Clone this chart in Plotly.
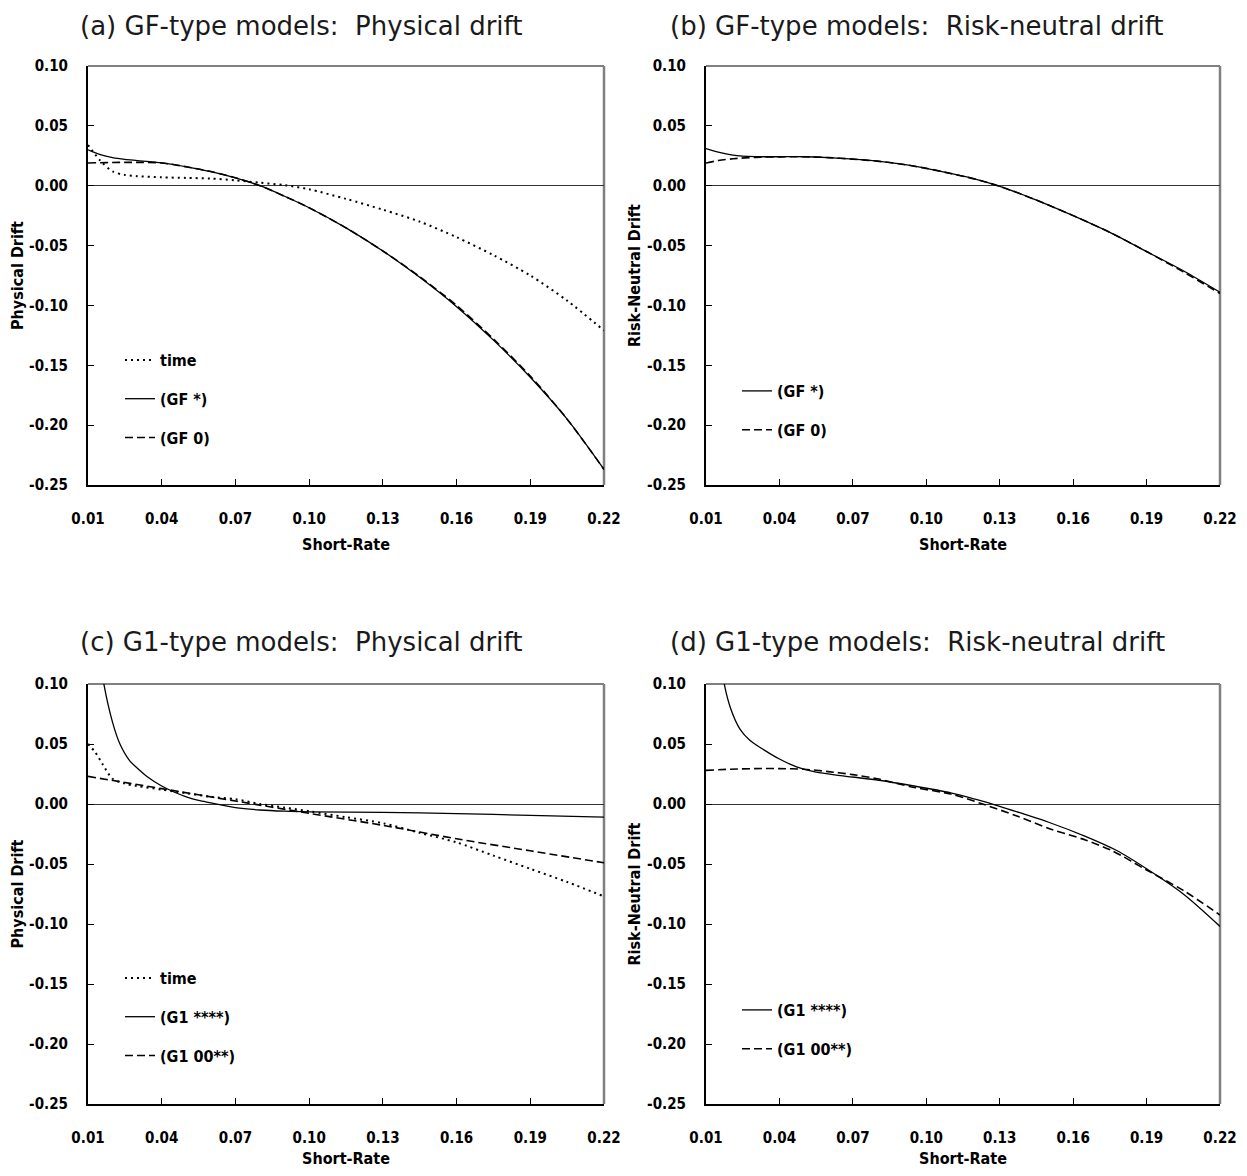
import plotly.graph_objects as go

# ---------------- data ----------------
x_ticks = [0.01, 0.04, 0.07, 0.10, 0.13, 0.16, 0.19, 0.22]
x_ticklabels = ["0.01", "0.04", "0.07", "0.10", "0.13", "0.16", "0.19", "0.22"]
y_ticks = [0.10, 0.05, 0.00, -0.05, -0.10, -0.15, -0.20, -0.25]
y_ticklabels = ["0.10", "0.05", "0.00", "-0.05", "-0.10", "-0.15", "-0.20", "-0.25"]

# (a) GF-type models: physical drift
a_r = [0.010, 0.015, 0.020, 0.025, 0.030, 0.040, 0.050, 0.060, 0.070, 0.080,
       0.090, 0.100, 0.115, 0.130, 0.145, 0.160, 0.175, 0.190, 0.205, 0.220]
a_time = [0.034, 0.021, 0.012, 0.009, 0.008, 0.007, 0.0065, 0.006, 0.0045, 0.0025,
          0.0005, -0.003, -0.011, -0.020, -0.030, -0.043, -0.058, -0.075, -0.096, -0.121]
a_gf_star = [0.030, 0.026, 0.0235, 0.022, 0.021, 0.019, 0.0158, 0.0118, 0.0066, 0.000,
             -0.0088, -0.0184, -0.0352, -0.0545, -0.0765, -0.101, -0.129, -0.160, -0.195, -0.237]
a_gf_0 = [0.019, 0.0192, 0.0194, 0.0195, 0.0195, 0.019, 0.0158, 0.0118, 0.0066, 0.000,
          -0.0088, -0.0184, -0.0352, -0.0545, -0.0760, -0.100, -0.128, -0.159, -0.195, -0.237]

# (b) GF-type models: risk-neutral drift
b_r = [0.010, 0.015, 0.021, 0.030, 0.040, 0.050, 0.060, 0.070, 0.080, 0.090,
       0.100, 0.110, 0.120, 0.130, 0.145, 0.160, 0.175, 0.190, 0.205, 0.220]
b_gf_star = [0.031, 0.028, 0.0256, 0.0243, 0.0242, 0.0242, 0.0235, 0.0222, 0.0205, 0.0180,
             0.0145, 0.0102, 0.0055, -0.0005, -0.012, -0.025, -0.039, -0.055, -0.071, -0.089]
b_gf_0 = [0.019, 0.021, 0.0225, 0.0237, 0.0241, 0.0242, 0.0235, 0.0222, 0.0205, 0.0180,
          0.0145, 0.0102, 0.0055, -0.0005, -0.012, -0.025, -0.039, -0.055, -0.072, -0.090]

# (c) G1-type models: physical drift
c_time_r = [0.010, 0.013, 0.016, 0.020, 0.025, 0.030, 0.040, 0.050, 0.060, 0.070, 0.080,
            0.090, 0.100, 0.115, 0.130, 0.145, 0.160, 0.175, 0.190, 0.205, 0.220]
c_time = [0.050, 0.043, 0.033, 0.021, 0.017, 0.015, 0.012, 0.009, 0.006, 0.004, 0.000,
          -0.003, -0.006, -0.011, -0.016, -0.024, -0.032, -0.043, -0.054, -0.065, -0.077]
c_g1_r = [0.013, 0.016, 0.020, 0.023, 0.027, 0.030, 0.034, 0.040, 0.045, 0.050, 0.055,
          0.060, 0.070, 0.080, 0.090, 0.100, 0.130, 0.160, 0.190, 0.220]
c_g1_star = [0.150, 0.105, 0.068, 0.050, 0.036, 0.030, 0.023, 0.015, 0.010, 0.006, 0.003,
             0.001, -0.003, -0.005, -0.006, -0.0065, -0.007, -0.008, -0.0095, -0.011]
c_g1_00_r = [0.010, 0.040, 0.070, 0.100, 0.130, 0.160, 0.190, 0.220]
c_g1_00 = [0.023, 0.0128, 0.0025, -0.0078, -0.0178, -0.029, -0.039, -0.049]

# (d) G1-type models: risk-neutral drift
d_g1_r = [0.015, 0.017, 0.020, 0.024, 0.028, 0.033, 0.040, 0.047, 0.055, 0.065, 0.080,
          0.095, 0.110, 0.120, 0.130, 0.140, 0.150, 0.165, 0.178, 0.190, 0.205, 0.220]
d_g1_star = [0.140, 0.105, 0.080, 0.062, 0.053, 0.046, 0.0375, 0.031, 0.0265, 0.0237, 0.020,
             0.015, 0.0093, 0.0040, -0.0019, -0.0085, -0.0152, -0.027, -0.039, -0.054, -0.075, -0.102]
d_g1_00_r = [0.010, 0.020, 0.030, 0.040, 0.050, 0.060, 0.070, 0.080, 0.095, 0.110, 0.123,
             0.137, 0.151, 0.165, 0.176, 0.190, 0.205, 0.220]
d_g1_00 = [0.028, 0.029, 0.0295, 0.0295, 0.029, 0.027, 0.0245, 0.021, 0.0138, 0.0083, 0.000,
           -0.010, -0.021, -0.030, -0.039, -0.055, -0.072, -0.0925]

titles = ["(a) GF-type models:\u00a0 Physical drift",
          "(b) GF-type models:\u00a0 Risk-neutral drift",
          "(c) G1-type models:\u00a0 Physical drift",
          "(d) G1-type models:\u00a0 Risk-neutral drift"]
y_titles = ["Physical Drift", "Risk-Neutral Drift", "Physical Drift", "Risk-Neutral Drift"]
x_title = "Short-Rate"

# ---------------- styling ----------------
# page body has an 8px margin, so the figure is drawn 8px in from the window corner
W, H = 1231, 1160
FB = "Liberation Sans Narrow, DejaVu Sans Condensed, Arial Narrow, sans-serif"
FT = "DejaVu Sans, Noto Sans, sans-serif"

STYLE = {
    "dot": dict(color="black", width=2.0, dash="2px,4px"),
    "solid": dict(color="black", width=1.3),
    "dash": dict(color="black", width=1.6, dash="8px,4px"),
}

fig = go.Figure()


def add(r, v, name, style, k):
    sfx = "" if k == 1 else str(k)
    fig.add_trace(go.Scatter(
        x=r, y=v, name=name, mode="lines",
        line=dict(shape="spline", smoothing=0.8, **STYLE[style]),
        xaxis="x" + sfx, yaxis="y" + sfx,
        legend="legend" + sfx, legendgroup=f"{k}-{name}",
        hoverinfo="skip",
    ))


add(a_r, a_time, "time", "dot", 1)
add(a_r, a_gf_star, "(GF *)", "solid", 1)
add(a_r, a_gf_0, "(GF 0)", "dash", 1)
add(b_r, b_gf_star, "(GF *)", "solid", 2)
add(b_r, b_gf_0, "(GF 0)", "dash", 2)
add(c_time_r, c_time, "time", "dot", 3)
add(c_g1_r, c_g1_star, "(G1 ****)", "solid", 3)
add(c_g1_00_r, c_g1_00, "(G1 00**)", "dash", 3)
add(d_g1_r, d_g1_star, "(G1 ****)", "solid", 4)
add(d_g1_00_r, d_g1_00, "(G1 00**)", "dash", 4)

xdom = {1: [80, 596], 2: [698, 1212], 3: [80, 596], 4: [698, 1212]}
ydom = {1: [58, 477], 2: [58, 477], 3: [676, 1096], 4: [676, 1096]}
xtitle_standoff = {1: 12, 2: 12, 3: 8, 4: 8}

layout = dict(width=W, height=H, margin=dict(l=0, r=0, t=0, b=0),
              paper_bgcolor="white", plot_bgcolor="white", showlegend=True,
              font=dict(family=FB, color="black"))
shapes = []
annotations = []
for k in range(1, 5):
    sfx = "" if k == 1 else str(k)
    x0, x1 = xdom[k]
    yt, yb = ydom[k]
    layout["xaxis" + sfx] = dict(
        domain=[x0 / W, x1 / W], anchor="y" + sfx, range=[0.01, 0.22],
        tickvals=x_ticks, ticktext=x_ticklabels, ticks="inside", ticklen=6,
        tickcolor="black", tickwidth=1.3, showline=True, linecolor="black", linewidth=2,
        showgrid=False, zeroline=False, ticklabelstandoff=19,
        tickfont=dict(family=FB, size=15, weight="bold"),
        title=dict(text=x_title, standoff=xtitle_standoff[k],
                   font=dict(family=FB, size=16, weight="bold")),
        automargin=False, fixedrange=True,
    )
    layout["yaxis" + sfx] = dict(
        domain=[1 - yb / H, 1 - yt / H], anchor="x" + sfx, range=[-0.25, 0.10],
        tickvals=y_ticks, ticktext=y_ticklabels, ticks="inside", ticklen=6,
        tickcolor="black", tickwidth=1.3, showline=True, linecolor="black", linewidth=2,
        showgrid=False, zeroline=True, zerolinecolor="#333333", zerolinewidth=1.3,
        ticklabelstandoff=15,
        tickfont=dict(family=FB, size=15, weight="bold"),
        title=dict(text=y_titles[k - 1], standoff=2,
                   font=dict(family=FB, size=16, weight="bold")),
        automargin=False, fixedrange=True,
    )
    # grey top and right frame edges
    shapes.append(dict(type="line", xref=f"x{sfx} domain", yref=f"y{sfx} domain",
                       x0=0, x1=1, y0=1, y1=1, line=dict(color="#808080", width=2), layer="below"))
    shapes.append(dict(type="line", xref=f"x{sfx} domain", yref=f"y{sfx} domain",
                       x0=1, x1=1, y0=0, y1=1, line=dict(color="#808080", width=2.5), layer="below"))
    tx = 70 if k in (1, 3) else 660
    ty = 18 if k in (1, 2) else 634
    annotations.append(dict(text=titles[k - 1], xref="paper", yref="paper",
                            x=tx / W, y=1 - ty / H, xanchor="left", yanchor="middle",
                            showarrow=False, font=dict(family=FT, size=26, color="#1a1a1a")))

# legends (one per panel)
leg_pos = {1: (112, 335, 15), 2: (729, 366, 15), 3: (112, 953, 15), 4: (729, 985, 15)}
for k in range(1, 5):
    sfx = "" if k == 1 else str(k)
    lx, ly, gap = leg_pos[k]
    layout["legend" + sfx] = dict(
        x=lx / W, y=1 - ly / H, xanchor="left", yanchor="top",
        bgcolor="rgba(0,0,0,0)", borderwidth=0, tracegroupgap=gap,
        font=dict(family=FB, size=16, weight="bold", color="black"),
        itemwidth=30, itemclick=False, itemdoubleclick=False,
    )

layout["shapes"] = shapes
layout["annotations"] = annotations
fig.update_layout(**layout)
fig.write_html("out.html")
